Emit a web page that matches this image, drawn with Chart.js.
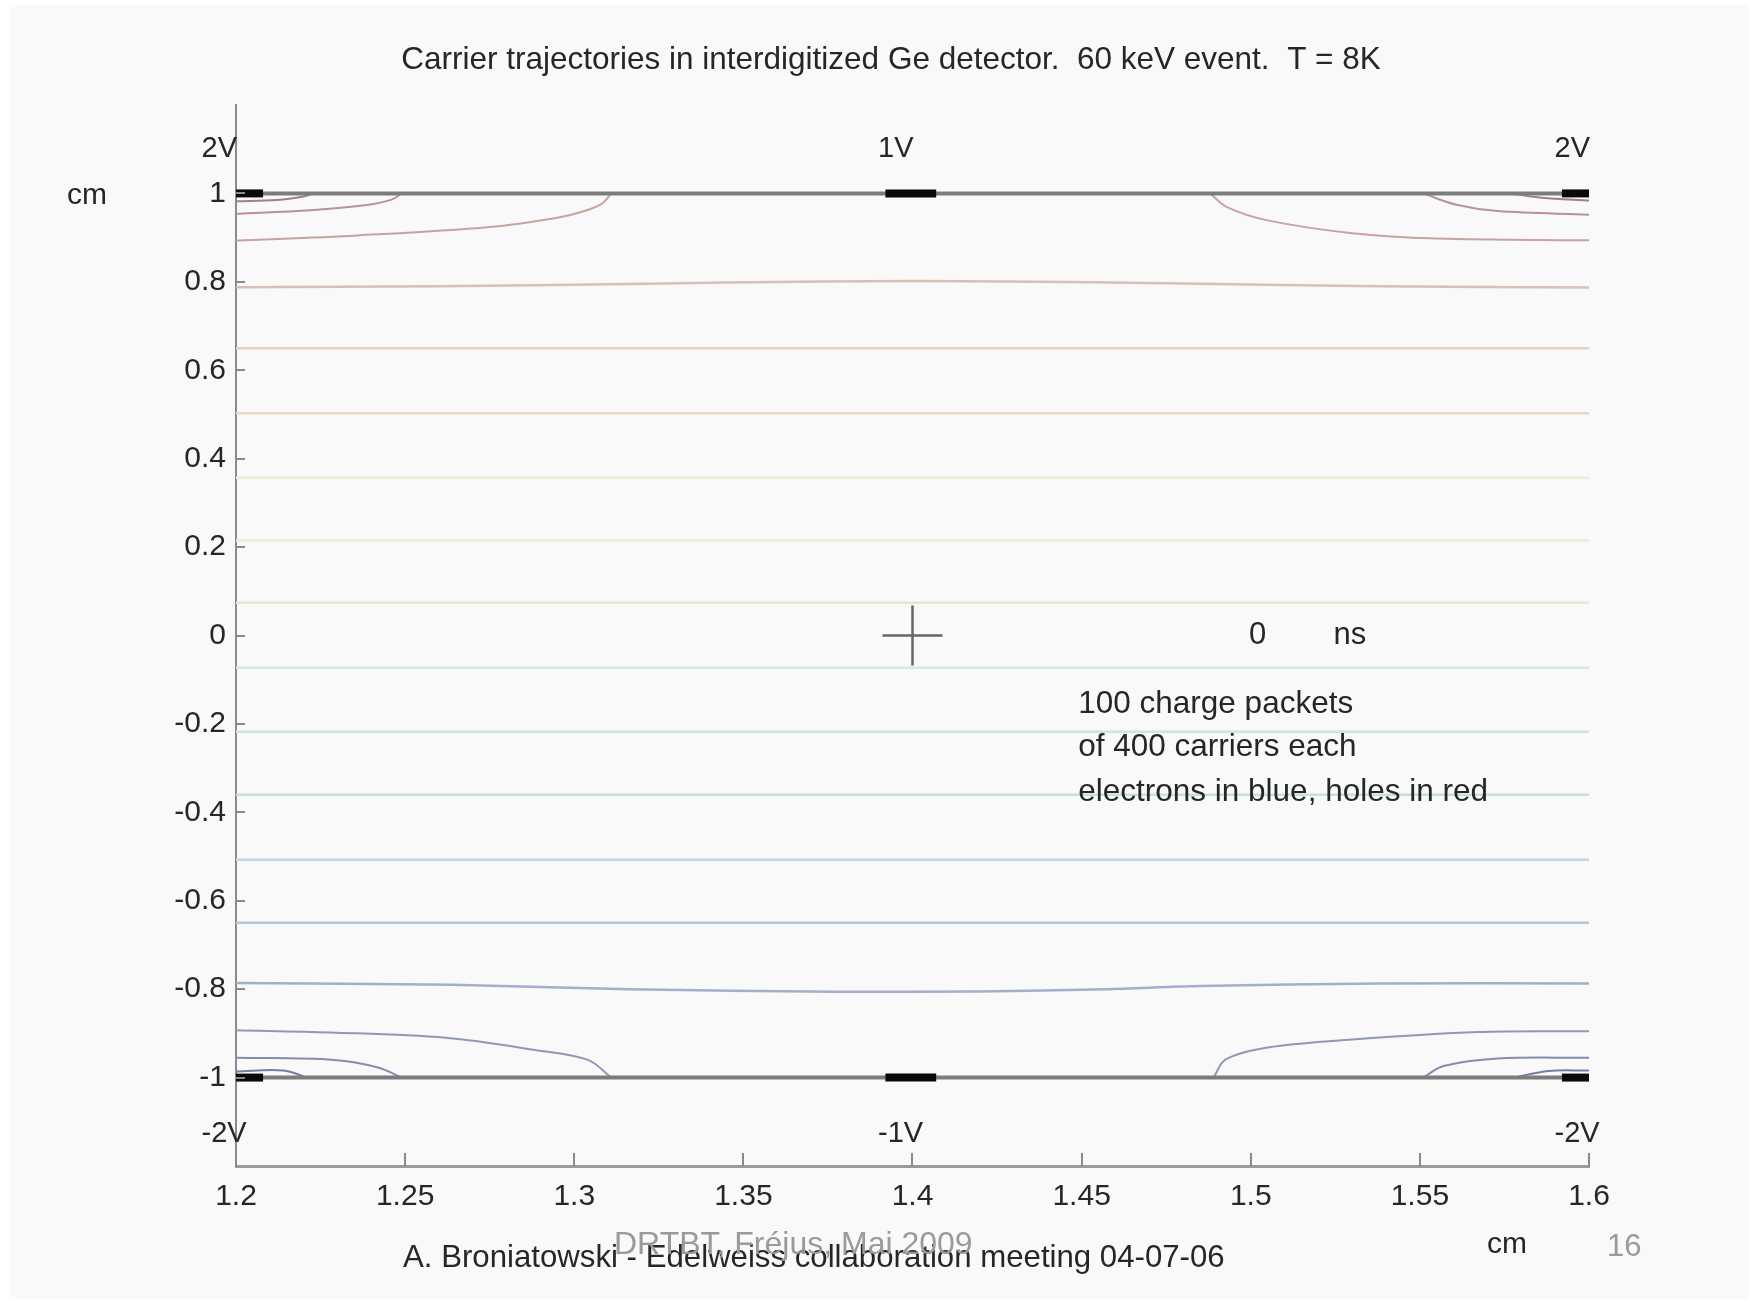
<!DOCTYPE html>
<html>
<head>
<meta charset="utf-8">
<title>Carrier trajectories</title>
<script src="https://cdn.jsdelivr.net/npm/chart.js@4.4.1/dist/chart.umd.min.js"></script>
<style>
  html, body { margin: 0; padding: 0; background: #fff; }
  #wrap { width: 1757px; height: 1303px; }
</style>
</head>
<body>
<div id="wrap"><canvas id="detChart" width="1757" height="1303"></canvas></div>
<script>
// axis ticks
const xTicks = [1.2, 1.25, 1.3, 1.35, 1.4, 1.45, 1.5, 1.55, 1.6];
const xTickLabels = ['1.2', '1.25', '1.3', '1.35', '1.4', '1.45', '1.5', '1.55', '1.6'];
const yTicks = [1, 0.8, 0.6, 0.4, 0.2, 0, -0.2, -0.4, -0.6, -0.8, -1];
const yTickLabels = ['1', '0.8', '0.6', '0.4', '0.2', '0', '-0.2', '-0.4', '-0.6', '-0.8', '-1'];

// electrodes (x centre, and the dark contact spans)
const electrodeX = [1.2, 1.4, 1.6];
const topVolts = ['2V', '1V', '2V'];
const bottomVolts = ['-2V', '-1V', '-2V'];
const contactSpans = [[1.2, 1.208], [1.392, 1.407], [1.592, 1.6]];

// hole tracks bending into the top electrodes
const topLeftOuter = [{x:1.2,y:0.893},{x:1.236,y:0.905},{x:1.275,y:0.924},{x:1.295,y:0.945},{x:1.302,y:0.958},{x:1.308,y:0.976},{x:1.311,y:1.0}];
const topLeftMid = [{x:1.2,y:0.954},{x:1.222,y:0.962},{x:1.238,y:0.973},{x:1.246,y:0.986},{x:1.249,y:1.0}];
const topLeftInner = [{x:1.2,y:0.982},{x:1.212,y:0.985},{x:1.22,y:0.993},{x:1.223,y:1.0}];
const topRightOuter = [{x:1.488,y:1.0},{x:1.493,y:0.969},{x:1.505,y:0.939},{x:1.53,y:0.91},{x:1.555,y:0.898},{x:1.6,y:0.894}];
const topRightMid = [{x:1.551,y:1.0},{x:1.5605,y:0.975},{x:1.573,y:0.96},{x:1.6,y:0.952}];
const topRightInner = [{x:1.577,y:1.0},{x:1.586,y:0.99},{x:1.6,y:0.984}];

// electron tracks bending into the bottom electrodes
const bottomLeftOuter = [{x:1.2,y:-0.893},{x:1.228,y:-0.898},{x:1.262,y:-0.91},{x:1.288,y:-0.937},{x:1.304,y:-0.96},{x:1.311,y:-1.0}];
const bottomLeftMid = [{x:1.2,y:-0.955},{x:1.229,y:-0.96},{x:1.242,y:-0.977},{x:1.249,y:-1.0}];
const bottomLeftInner = [{x:1.2,y:-0.986},{x:1.214,y:-0.984},{x:1.221,y:-1.0}];
const bottomRightOuter = [{x:1.489,y:-1.0},{x:1.4926,y:-0.959},{x:1.505,y:-0.932},{x:1.53,y:-0.914},{x:1.567,y:-0.897},{x:1.6,y:-0.895}];
const bottomRightMid = [{x:1.551,y:-1.0},{x:1.557,y:-0.974},{x:1.573,y:-0.957},{x:1.6,y:-0.955}];
const bottomRightInner = [{x:1.578,y:-1.0},{x:1.588,y:-0.985},{x:1.6,y:-0.984}];

// nearly flat tracks
const upperBand = [{x:1.2,y:0.788},{x:1.26,y:0.79},{x:1.316,y:0.795},{x:1.374,y:0.801},{x:1.427,y:0.801},{x:1.48,y:0.796},{x:1.538,y:0.79},{x:1.6,y:0.787}];
const lowerBand = [{x:1.2,y:-0.786},{x:1.264,y:-0.79},{x:1.316,y:-0.8},{x:1.377,y:-0.806},{x:1.42,y:-0.805},{x:1.457,y:-0.8},{x:1.485,y:-0.793},{x:1.538,y:-0.787},{x:1.6,y:-0.787}];
const flatLevels = [0.65, 0.503, 0.357, 0.215, 0.074, -0.073, -0.218, -0.36, -0.507, -0.65];
const flatColors = ['#e8cfc2', '#e4dac0', '#eceecc', '#e8eecf', '#e2ead2', '#d4eadf', '#cbe5df', '#c6dfe3', '#bfd8e2', '#b3c8d8'];

// event position
const eventPoint = [{x:1.4, y:0}];

const font = '"Liberation Sans", Arial, Helvetica, sans-serif';

function track(data, color, width, tension) {
  return {
    data: data, showLine: true, borderColor: color, borderWidth: width,
    pointRadius: 0, tension: tension || 0, fill: false
  };
}

const datasets = [];
flatLevels.forEach((v, i) => {
  datasets.push(track([{x:1.2, y:v}, {x:1.6, y:v}], flatColors[i], 2.5));
});
datasets.push(track(upperBand, '#d6c0b8', 2.5, 0.3));
datasets.push(track(lowerBand, '#a2aecb', 2.5, 0.3));
datasets.push(track(topLeftOuter, '#c9a2a0', 2, 0.35));
datasets.push(track(topLeftMid, '#b89296', 2, 0.35));
datasets.push(track(topLeftInner, '#9e8088', 2, 0.35));
datasets.push(track(topRightOuter, '#c9a2a0', 2, 0.35));
datasets.push(track(topRightMid, '#b89296', 2, 0.35));
datasets.push(track(topRightInner, '#9e8088', 2, 0.35));
datasets.push(track(bottomLeftOuter, '#9098ba', 2, 0.35));
datasets.push(track(bottomLeftMid, '#848cb0', 2, 0.35));
datasets.push(track(bottomLeftInner, '#747ea2', 2, 0.35));
datasets.push(track(bottomRightOuter, '#9098ba', 2, 0.35));
datasets.push(track(bottomRightMid, '#848cb0', 2, 0.35));
datasets.push(track(bottomRightInner, '#747ea2', 2, 0.35));
// electrode planes
datasets.push(track([{x:1.2, y:1}, {x:1.6, y:1}], '#7c7c7c', 4));
datasets.push(track([{x:1.2, y:-1}, {x:1.6, y:-1}], '#7c7c7c', 4));
contactSpans.forEach(s => {
  datasets.push(track([{x:s[0], y:1}, {x:s[1], y:1}], '#0a0a0a', 8));
  datasets.push(track([{x:s[0], y:-1}, {x:s[1], y:-1}], '#0a0a0a', 8));
});
datasets.push({
  data: eventPoint, showLine: false, pointStyle: 'cross', pointRadius: 30,
  borderColor: '#666666', borderWidth: 2.5, backgroundColor: '#666666'
});
// Chart.js paints the first dataset last, so put the later pushes on top
datasets.reverse();

const decor = {
  id: 'decor',
  beforeDraw(chart) {
    const ctx = chart.ctx;
    ctx.save();
    ctx.fillStyle = '#ffffff';
    ctx.fillRect(0, 0, chart.width, chart.height);
    ctx.fillStyle = '#f9f9f9';
    ctx.fillRect(9, 5, 1740, 1294);
    ctx.restore();
  },
  afterDraw(chart) {
    const ctx = chart.ctx;
    const xs = chart.scales.x, ys = chart.scales.y;
    const area = chart.chartArea;
    ctx.save();
    // inward tick marks
    ctx.strokeStyle = '#8a8a8a';
    ctx.lineWidth = 2;
    xTicks.forEach(v => {
      const px = Math.round(xs.getPixelForValue(v));
      ctx.beginPath();
      ctx.moveTo(px, area.bottom);
      ctx.lineTo(px, area.bottom - 13);
      ctx.stroke();
    });
    yTicks.forEach(v => {
      const py = Math.round(ys.getPixelForValue(v));
      ctx.beginPath();
      ctx.moveTo(area.left, py);
      ctx.lineTo(area.left + 9, py);
      ctx.stroke();
    });

    ctx.fillStyle = '#262626';
    ctx.textBaseline = 'middle';
    ctx.font = '31.5px ' + font;
    ctx.textAlign = 'center';
    ctx.fillText('Carrier trajectories in interdigitized Ge detector.  60 keV event.  T = 8K', 891, 60);

    ctx.textAlign = 'left';
    ctx.font = '29px ' + font;
    electrodeX.forEach((ex, i) => {
      ctx.fillText(topVolts[i], xs.getPixelForValue(ex - 0.0102), ys.getPixelForValue(1.1));
      ctx.fillText(bottomVolts[i], xs.getPixelForValue(ex - 0.0102), ys.getPixelForValue(-1.128));
    });

    ctx.font = '30px ' + font;
    ctx.fillText('cm', 67, ys.getPixelForValue(1) + 2);
    ctx.fillText('cm', 1487, 1245);

    ctx.font = '31px ' + font;
    ctx.textAlign = 'center';
    ctx.fillText('0', xs.getPixelForValue(1.502), ys.getPixelForValue(0));
    ctx.textAlign = 'left';
    ctx.fillText('ns', xs.getPixelForValue(1.5245), ys.getPixelForValue(0));

    ctx.font = '31.5px ' + font;
    const noteX = xs.getPixelForValue(1.449);
    ctx.fillText('100 charge packets', noteX, ys.getPixelForValue(-0.155));
    ctx.fillText('of 400 carriers each', noteX, ys.getPixelForValue(-0.253));
    ctx.fillText('electrons in blue, holes in red', noteX, ys.getPixelForValue(-0.354));

    ctx.font = '31.2px ' + font;
    ctx.fillText('A. Broniatowski - Edelweiss collaboration meeting 04-07-06', 403, 1258);

    ctx.fillStyle = '#9a9a9a';
    ctx.font = '32px ' + font;
    ctx.fillText('DRTBT, Fréjus, Mai 2009', 614, 1245);
    ctx.font = '31px ' + font;
    ctx.fillText('16', 1607, 1247);
    ctx.restore();
  }
};

new Chart(document.getElementById('detChart'), {
  type: 'scatter',
  data: { datasets: datasets },
  options: {
    responsive: false,
    animation: false,
    events: [],
    layout: { padding: { top: 105, right: 168, bottom: 0, left: 0 } },
    plugins: {
      legend: { display: false },
      tooltip: { enabled: false },
      title: { display: false }
    },
    scales: {
      x: {
        type: 'linear',
        min: 1.2,
        max: 1.6,
        afterFit: s => { s.height = 137; },
        afterBuildTicks: s => { s.ticks = xTicks.map(v => ({ value: v })); },
        ticks: {
          padding: 13,
          color: '#262626',
          font: { family: font, size: 30 },
          maxRotation: 0,
          autoSkip: false,
          callback: (v, i) => xTickLabels[i]
        },
        grid: { display: true, drawOnChartArea: false, drawTicks: false },
        border: { display: true, color: '#9a9a9a', width: 3 }
      },
      y: {
        type: 'linear',
        min: -1.2,
        max: 1.2,
        afterFit: s => { s.width = 236; },
        afterBuildTicks: s => { s.ticks = yTicks.map(v => ({ value: v })); },
        ticks: {
          padding: 10,
          color: '#262626',
          font: { family: font, size: 30 },
          autoSkip: false,
          callback: (v, i) => yTickLabels[i]
        },
        grid: { display: true, drawOnChartArea: false, drawTicks: false },
        border: { display: true, color: '#8a8a8a', width: 2 }
      }
    }
  },
  plugins: [decor]
});
</script>
</body>
</html>
